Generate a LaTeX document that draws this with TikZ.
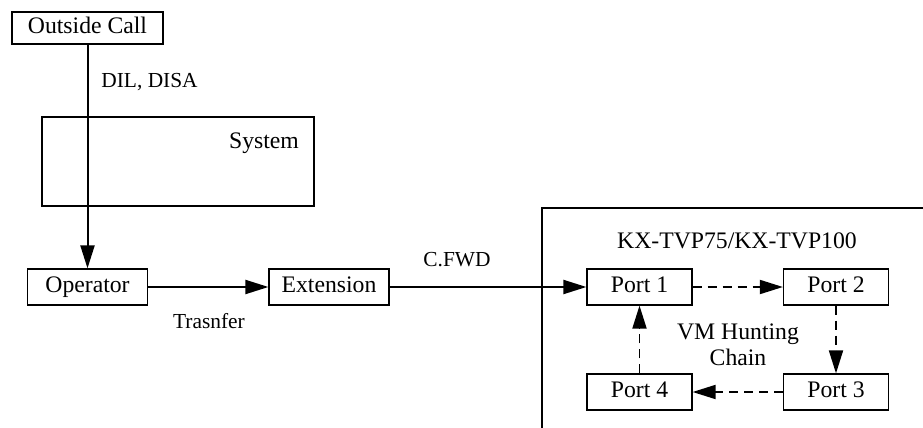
\documentclass[tikz,border=0pt]{standalone}
\usepackage{fontspec}
\setmainfont{Liberation Serif}
\usetikzlibrary{arrows.meta}
\begin{document}
\begin{tikzpicture}[x=0.5pt,y=-0.5pt,
  box/.style={draw,line width=0.6pt,minimum height=18pt,inner sep=0pt,
    text height=8pt,text depth=2.5pt,
    font=\fontsize{11.85}{14}\selectfont},
  lbl/.style={font=\fontsize{10.7}{13}\selectfont,inner sep=0pt},
  flow/.style={line width=1pt,-{Triangle[length=11.5pt,width=7pt]}},
  hunt/.style={line width=0.9pt,dash pattern=on 4.5pt off 3pt,
    -{Triangle[length=11.5pt,width=7pt]}}]
\useasboundingbox (0,0) rectangle (923,428);
% outer boxes
\node[draw,line width=0.6pt,minimum width=136pt,minimum height=44.5pt,inner sep=0pt]
  (system) at (178,161.5) {};
\node[font=\fontsize{11.85}{14}\selectfont,inner sep=0pt] (systxt) at (264,143) {System};
\draw[line width=0.6pt] (542,428) -- (542,208) -- (923,208);
\coordinate (kxcorner) at (542,208);
\node[font=\fontsize{11.85}{14}\selectfont,inner sep=0pt] (kx) at (737,241) {KX-TVP75/KX-TVP100};
% nodes
\node[box,minimum width=75.5pt,minimum height=16pt] (out) at (87.5,28) {Outside Call};
\node[box,minimum width=60pt] (op) at (87.5,287) {Operator};
\node[box,minimum width=60pt] (ext) at (329,287) {Extension};
\node[box,minimum width=52.5pt] (p1) at (639.5,287) {Port 1};
\node[box,minimum width=52.5pt] (p2) at (836,287) {Port 2};
\node[box,minimum width=52.5pt] (p3) at (836,392) {Port 3};
\node[box,minimum width=52.5pt] (p4) at (639.5,392) {Port 4};
% connectors
\draw[flow] (out.south) -- (op.north);
\draw[flow] (op) -- (ext);
\draw[flow] (ext) -- (p1);
\draw[hunt] (p1) -- (p2);
\draw[hunt] (p2) -- (p3);
\draw[hunt] (p3) -- (p4);
\draw[hunt] (p4) -- (p1);
% labels
\node[lbl,anchor=west] (dil) at (101,82) {DIL, DISA};
\node[lbl] (tr) at (209,321) {Trasnfer};
\node[lbl] (cf) at (457,260) {C.FWD};
\node[font=\fontsize{11.85}{13.2}\selectfont,align=center,inner sep=0pt] (vm) at (738,345)
  {VM Hunting\\Chain};
\end{tikzpicture}
\end{document}
